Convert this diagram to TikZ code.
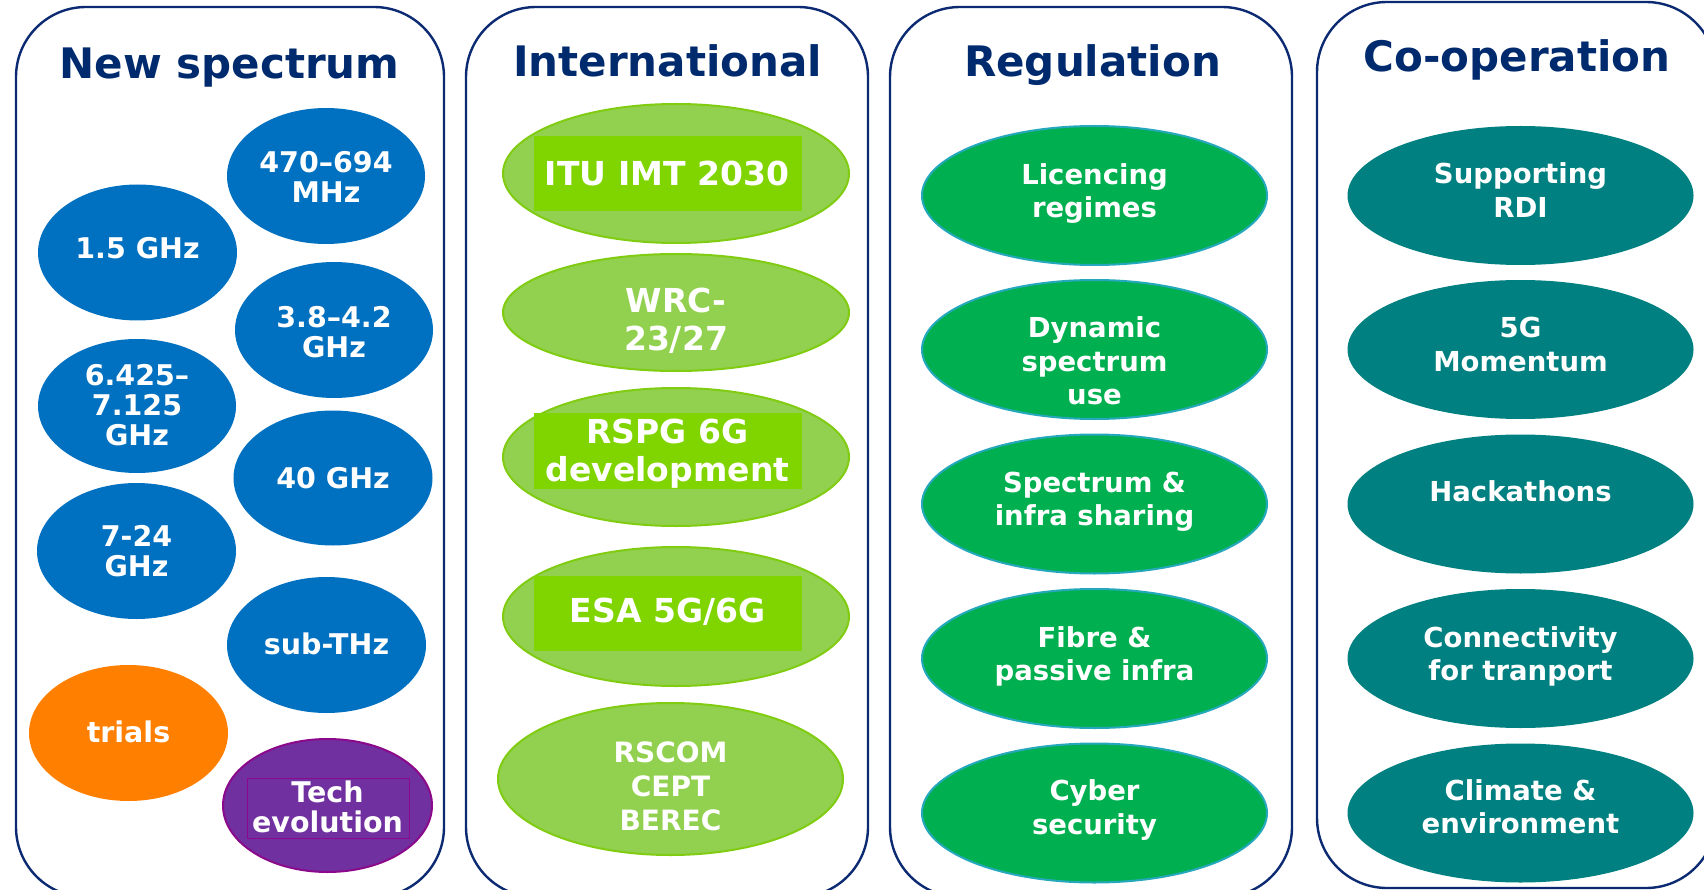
\documentclass[tikz,border=0pt]{standalone}
\usepackage{fontspec}
\setmainfont{DejaVu Sans}
\usetikzlibrary{shapes.geometric}
\definecolor{navy}{HTML}{0B2A72}
\definecolor{titlec}{HTML}{002A6E}
\definecolor{cblue}{HTML}{0070C0}
\definecolor{corange}{HTML}{FF8000}
\definecolor{cpurple}{HTML}{7030A0}
\definecolor{cpurpleline}{HTML}{8B0A8B}
\definecolor{lgreen}{HTML}{92D050}
\definecolor{lgreenline}{HTML}{7FCC10}
\definecolor{lgreenbox}{HTML}{80D400}
\definecolor{cgreen}{HTML}{00B050}
\definecolor{cgreenline}{HTML}{25A8BC}
\definecolor{cteal}{HTML}{008080}
\tikzset{
  panel/.style={draw=navy, line width=2.4pt, rounded corners=70pt},
  ttl/.style={text=titlec, font=\bfseries\fontsize{42}{46}\selectfont, anchor=base, inner sep=0pt},
  ell/.style n args={2}{ellipse, inner sep=0pt, minimum width=#1, minimum height=#2},
  blueell/.style={fill=cblue},
  orangeell/.style={fill=corange},
  purpleell/.style={fill=cpurple, draw=cpurpleline, line width=2pt},
  lgell/.style={fill=lgreen, draw=lgreenline, line width=2pt},
  gell/.style={fill=cgreen, draw=cgreenline, line width=2pt},
  tealell/.style={fill=cteal},
  gbox/.style={fill=lgreenbox, inner sep=0pt},
  pbox/.style={draw=cpurpleline, line width=1pt, inner sep=0pt},
  tA/.style={text=white, align=center, inner sep=0pt, font=\bfseries\fontsize{28.5}{30}\selectfont},
  tB/.style={text=white, align=center, inner sep=0pt, font=\bfseries\fontsize{33}{38}\selectfont},
  tC/.style={text=white, align=center, inner sep=0pt, font=\bfseries\fontsize{28}{34}\selectfont},
  tD/.style={text=white, align=center, inner sep=0pt, font=\bfseries\fontsize{27.5}{33.5}\selectfont},
}
\begin{document}
\begin{tikzpicture}[x=1pt, y=-1pt]
\useasboundingbox (0,0) rectangle (1704,890);
\fill[white] (0,0) rectangle (1704,890);
\begin{scope}
\clip (0,0) rectangle (1704,890);
\draw[panel] (16,7) rectangle (444,897);
\draw[panel] (466,7) rectangle (868,897);
\draw[panel] (890,7) rectangle (1292,897);
\draw[panel] (1317,2) rectangle (1716,888);
\end{scope}

% titles
\node[ttl] (t1) at (229.5,79) {New spectrum};
\node[ttl] (t2) at (667.5,77) {International};
\node[ttl] (t3) at (1092.5,77) {Regulation};
\node[ttl] (t4) at (1517,72) {Co-operation};

% panel 1
\node[ell={198}{136}, blueell] (n1) at (326,176) {};
\node[tA] (n1t) at (326,177) {470–694\\MHz};
\node[ell={199}{136}, blueell] (n2) at (137.5,252.5) {};
\node[tA] (n2t) at (137.5,248) {1.5 GHz};
\node[ell={198}{136}, blueell] (n3) at (334,330) {};
\node[tA] (n3t) at (334,332) {3.8–4.2\\GHz};
\node[ell={198}{134}, blueell] (n4) at (137,406) {};
\node[tA] (n4t) at (137,405) {6.425–\\7.125\\GHz};
\node[ell={199}{135}, blueell] (n5) at (333,478) {};
\node[tA] (n5t) at (333,478) {40 GHz};
\node[ell={199}{136}, blueell] (n6) at (136.5,551) {};
\node[tA] (n6t) at (136.5,551) {7-24\\GHz};
\node[ell={199}{136}, blueell] (n7) at (326.5,645) {};
\node[tA] (n7t) at (326.5,644) {sub-THz};
\node[ell={199}{136}, orangeell] (n8) at (128.5,733) {};
\node[tA] (n8t) at (128.5,732) {trials};
\node[ell={209}{133}, purpleell] (n9) at (327.5,805.5) {};
\node[pbox, minimum width=162, minimum height=60] (n9b) at (328,808) {};
\node[tA] (n9t) at (327.5,807) {Tech\\evolution};

% panel 2
\node[ell={346}{139}, lgell] (i1) at (676,173.5) {};
\node[gbox, minimum width=268, minimum height=75] (i1b) at (668,174) {};
\node[tB] (i1t) at (667,173.5) {ITU IMT 2030};
\node[ell={346}{117}, lgell] (i2) at (676,312.5) {};
\node[tB] (i2t) at (676,321) {WRC-\\23/27};
\node[ell={346}{138}, lgell] (i3) at (676,457) {};
\node[gbox, minimum width=268, minimum height=76] (i3b) at (668,451) {};
\node[tB] (i3t) at (667.5,454) {RSPG 6G\\development};
\node[ell={346}{139}, lgell] (i4) at (676,616.5) {};
\node[gbox, minimum width=268, minimum height=75] (i4b) at (668,613.5) {};
\node[tB] (i4t) at (667.5,611.5) {ESA 5G/6G};
\node[ell={345}{152}, lgell] (i5) at (670.5,779) {};
\node[tC] (i5t) at (670.5,786) {RSCOM\\CEPT\\BEREC};

% panel 3
\node[ell={345}{139}, gell] (r1) at (1094.5,195.5) {};
\node[tD] (r1t) at (1094.5,193.3) {Licencing\\regimes};
\node[ell={345}{139}, gell] (r2) at (1094.5,349.5) {};
\node[tD] (r2t) at (1094.5,361) {Dynamic\\spectrum\\use};
\node[ell={345}{139}, gell] (r3) at (1094.5,504) {};
\node[tD] (r3t) at (1094.5,501.8) {Spectrum \&\\infra sharing};
\node[ell={345}{139}, gell] (r4) at (1094.5,658.5) {};
\node[tD] (r4t) at (1094.5,656.3) {Fibre \&\\passive infra};
\node[ell={345}{139}, gell] (r5) at (1094.5,813) {};
\node[tD] (r5t) at (1094.5,809.8) {Cyber\\security};

% panel 4
\node[ell={346}{139}, tealell] (c1) at (1520.5,195.5) {};
\node[tD] (c1t) at (1520.5,190) {Supporting\\RDI};
\node[ell={346}{139}, tealell] (c2) at (1520.5,349.5) {};
\node[tD] (c2t) at (1520.5,344.5) {5G\\Momentum};
\node[ell={346}{139}, tealell] (c3) at (1520.5,504) {};
\node[tD] (c3t) at (1520.5,491.5) {Hackathons};
\node[ell={346}{139}, tealell] (c4) at (1520.5,658.5) {};
\node[tD] (c4t) at (1520.5,656.3) {Connectivity\\for tranport};
\node[ell={346}{139}, tealell] (c5) at (1520.5,813) {};
\node[tD] (c5t) at (1520.5,806.5) {Climate \&\\environment};
\end{tikzpicture}
\end{document}
